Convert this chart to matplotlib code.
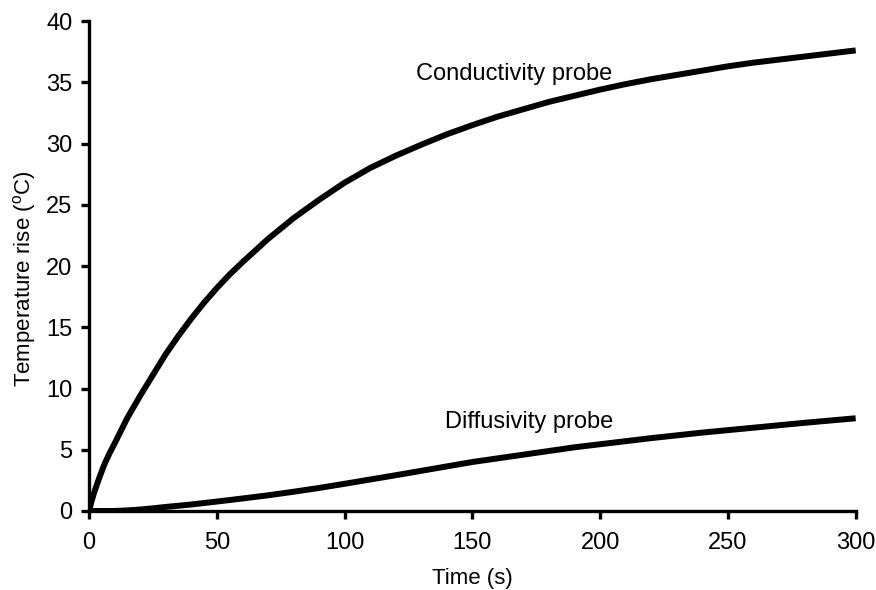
import numpy as np
import matplotlib.pyplot as plt
import matplotlib as mpl

mpl.rcParams['font.family'] = ['Liberation Sans', 'DejaVu Sans']
mpl.rcParams['mathtext.fontset'] = 'custom'
mpl.rcParams['mathtext.rm'] = 'Liberation Sans'

# time (s) and temperature rise (C)
t_cond = [0, 1, 2, 4, 6, 8, 10, 15, 20, 25, 30, 35, 40, 45, 50, 55, 60, 70, 80, 90,
          100, 110, 120, 130, 140, 150, 160, 170, 180, 190, 200, 210, 220, 230, 240,
          250, 260, 270, 280, 290, 300]
cond = [0, 0.8, 1.5, 2.7, 3.8, 4.7, 5.5, 7.6, 9.4, 11.1, 12.8, 14.3, 15.7, 17.0, 18.2,
        19.3, 20.3, 22.2, 23.9, 25.4, 26.8, 28.0, 29.0, 29.9, 30.75, 31.5, 32.2, 32.8,
        33.4, 33.9, 34.4, 34.85, 35.25, 35.6, 35.95, 36.3, 36.6, 36.85, 37.1, 37.35, 37.6]

t_diff = [0, 10, 15, 20, 25, 30, 40, 50, 60, 70, 80, 90, 100, 110, 120, 130, 140, 150,
          160, 170, 180, 190, 200, 220, 240, 250, 260, 280, 300]
diff = [0, 0.0, 0.05, 0.12, 0.22, 0.33, 0.53, 0.77, 1.02, 1.28, 1.57, 1.88, 2.22, 2.57,
        2.92, 3.28, 3.64, 4.0, 4.3, 4.6, 4.9, 5.2, 5.45, 5.95, 6.4, 6.6, 6.8, 7.2, 7.57]

fig = plt.figure(figsize=(8.76, 5.9), dpi=100)
ax = fig.add_axes([0.1016, 0.1339, 0.8752, 0.8305])

ax.plot(t_cond, cond, color='black', lw=4.3, solid_capstyle='butt')
ax.plot(t_diff, diff, color='black', lw=4.3, solid_capstyle='butt')

ax.text(127.8, 35.65, 'Conductivity probe', fontsize=17, va='center', ha='left')
ax.text(139.3, 7.3, 'Diffusivity probe', fontsize=17, va='center', ha='left')

ax.set_xlim(0, 300)
ax.set_ylim(0, 40)
ax.set_xticks(np.arange(0, 301, 50))
ax.set_yticks(np.arange(0, 41, 5))
ax.spines['top'].set_visible(False)
ax.spines['right'].set_visible(False)
for s in ['left', 'bottom']:
    ax.spines[s].set_linewidth(2.4)
ax.tick_params(direction='out', length=6, width=2.4, labelsize=17)
ax.tick_params(axis='x', pad=9)
ax.tick_params(axis='y', pad=6)
ax.set_xlabel('Time (s)', fontsize=16, labelpad=10)
ax.set_ylabel(r'Temperature rise ($^{\mathrm{o}}$C)', fontsize=16)
ax.yaxis.set_label_coords(-0.066, 0.475)

fig.savefig('out.png', dpi=100)
